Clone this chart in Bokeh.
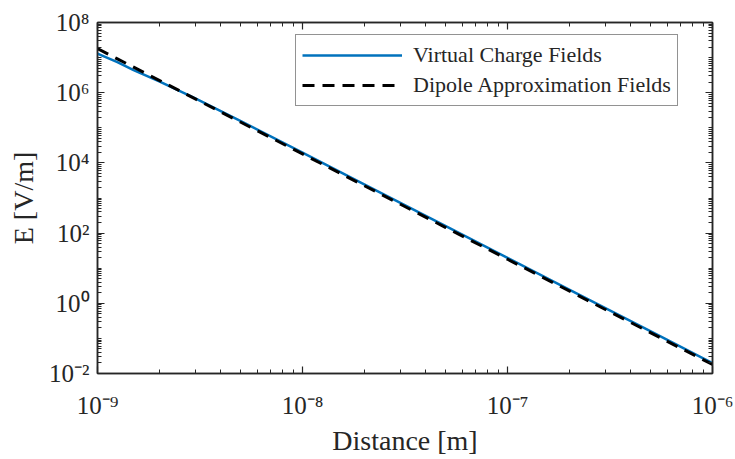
from bokeh.plotting import figure
from bokeh.models import (Range1d, FixedTicker, CustomJSTickFormatter, LogAxis,
                          Legend, LegendItem)
from bokeh.embed import file_html
from bokeh.resources import INLINE

# Field strength versus distance (log-log)
distance_m = [1e-9, 1.25e-9, 1.5e-9, 2e-9, 3e-9, 5e-9, 1e-8, 2e-8, 5e-8,
              1e-7, 2e-7, 5e-7, 1e-6]
virtual_charge = [1.3e7, 7.4e6, 4.4e6, 2.1e6, 6.9e5, 1.55e5, 1.95e4, 2.45e3,
                  1.58e2, 19.7, 2.46, 0.158, 0.0197]
dipole_approx = [1.8e7, 9.2e6, 5.33e6, 2.25e6, 6.67e5, 1.44e5, 1.8e4, 2.25e3,
                 1.44e2, 18.0, 2.25, 0.144, 0.018]

x_major = [1e-9, 1e-8, 1e-7, 1e-6]
y_major = [1e-2, 1e0, 1e2, 1e4, 1e6, 1e8]

FONT = "Liberation Serif"
AX = "#262626"
BLUE = "#0072BD"


def minor_ticks(lo_exp, hi_exp, step_decades):
    out = []
    for e in range(lo_exp, hi_exp):
        for m in range(1, 10):
            if m == 1 and (e - lo_exp) % step_decades == 0:
                continue
            out.append(m * 10.0 ** e)
    return out


x_ticker = FixedTicker(ticks=x_major, minor_ticks=minor_ticks(-9, -6, 1))
y_ticker = FixedTicker(ticks=y_major, minor_ticks=minor_ticks(-2, 8, 2))

# "10" followed by the exponent in superscript characters
pow_fmt = CustomJSTickFormatter(code="""
const sup = {'-': '\u207b', '0': '\u2070', '1': '\u00b9', '2': '\u00b2', '3': '\u00b3',
             '4': '\u2074', '5': '\u2075', '6': '\u2076', '7': '\u2077', '8': '\u2078', '9': '\u2079'};
const e = Math.round(Math.log10(tick));
return '10' + String(e).split('').map(c => sup[c]).join('');
""")
blank_fmt = CustomJSTickFormatter(code="return '';")

p = figure(width=735, height=459, x_axis_type="log", y_axis_type="log",
           x_range=Range1d(1e-9, 1e-6), y_range=Range1d(1e-2, 1e8),
           output_backend="svg", toolbar_location=None,
           background_fill_color="white", border_fill_color="white")
p.min_border_left = 97
p.min_border_right = 23
p.min_border_top = 22
p.min_border_bottom = 86
p.grid.visible = False
p.outline_line_color = AX
p.outline_line_width = 1.5


def style_axis(ax, ticker, fmt, labelled):
    ax.ticker = ticker
    ax.formatter = fmt
    ax.axis_line_color = AX
    ax.axis_line_width = 1.5
    ax.major_tick_line_color = AX
    ax.minor_tick_line_color = AX
    ax.major_tick_line_width = 1.2
    ax.minor_tick_line_width = 1.0
    ax.major_tick_in = 7
    ax.major_tick_out = 0
    ax.minor_tick_in = 4
    ax.minor_tick_out = 0
    ax.major_label_text_font = FONT
    ax.major_label_text_color = AX
    ax.major_label_text_font_size = "25px" if labelled else "1px"
    ax.axis_label_text_font = FONT
    ax.axis_label_text_color = AX
    ax.axis_label_text_font_style = "normal"
    ax.axis_label_text_font_size = "28px"


xa = p.xaxis[0]
ya = p.yaxis[0]
style_axis(xa, x_ticker, pow_fmt, True)
style_axis(ya, y_ticker, pow_fmt, True)
xa.axis_label = "Distance [m]"
ya.axis_label = "E [V/m]"
xa.major_label_standoff = 18
ya.major_label_standoff = 8
xa.axis_label_standoff = 3
ya.axis_label_standoff = 7

top_ax = LogAxis()
style_axis(top_ax, x_ticker, blank_fmt, False)
p.add_layout(top_ax, "above")
right_ax = LogAxis()
style_axis(right_ax, y_ticker, blank_fmt, False)
p.add_layout(right_ax, "right")

r_virtual = p.line(distance_m, virtual_charge, line_color=BLUE, line_width=2.5)
r_dipole = p.line(distance_m, dipole_approx, line_color="black", line_width=3,
                  line_dash="12 8")

legend = Legend(items=[LegendItem(label="Virtual Charge Fields", renderers=[r_virtual]),
                       LegendItem(label="Dipole Approximation Fields", renderers=[r_dipole])],
                location=(198, 267))
legend.label_text_font = FONT
legend.label_text_font_size = "22px"
legend.label_text_color = AX
legend.glyph_width = 100
legend.glyph_height = 28
legend.label_height = 28
legend.spacing = 2
legend.padding = 6
legend.label_standoff = 11
legend.border_line_color = AX
legend.border_line_width = 1.2
legend.background_fill_color = "white"
legend.margin = 0
p.add_layout(legend, "center")

with open("out.html", "w") as f:
    f.write(file_html(p, INLINE))
